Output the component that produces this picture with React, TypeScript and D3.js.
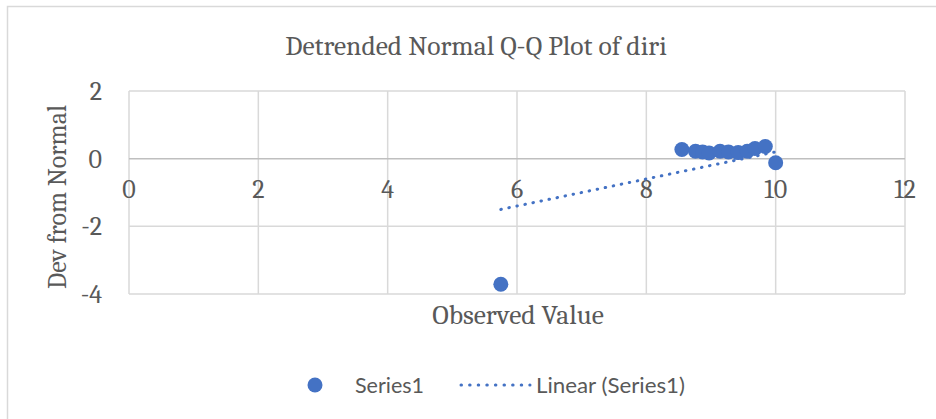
import React, { useEffect, useRef } from "react";
import * as d3 from "d3";

const observed = [5.75, 8.55, 8.76, 8.87, 8.97, 9.14, 9.27, 9.42, 9.56, 9.68, 9.84, 10.0];
const devFromNormal = [-3.71, 0.27, 0.22, 0.2, 0.17, 0.22, 0.2, 0.18, 0.22, 0.3, 0.36, -0.12];

// linear trendline endpoints (Excel fit over all obs, many hidden behind each other)
const trendX = [5.75, 10];
const trendY = [-1.5, 0.2];

const xTicks = [0, 2, 4, 6, 8, 10, 12];
const yTicks = [-4, -2, 0, 2];

const BLUE = "#4472C4";
const TEXT = "#595959";
const SERIF = "Cambria, 'Liberation Serif', serif";

export default function App() {
    const ref = useRef<SVGSVGElement>(null);

    useEffect(() => {
        const svg = d3.select(ref.current);
        svg.selectAll("*").remove();

        const width = 936;
        const height = 419;
        const margin = { top: 91, right: 31, bottom: 125, left: 129 };

        const x = d3.scaleLinear().domain([0, 12]).range([margin.left, width - margin.right]);
        const y = d3.scaleLinear().domain([-4, 2]).range([height - margin.bottom, margin.top]);

        // chart frame
        svg.append("rect")
            .attr("x", 7.5).attr("y", 6.5)
            .attr("width", 1200).attr("height", 1200)
            .attr("fill", "white")
            .attr("stroke", "#d9d9d9")
            .attr("stroke-width", 1.5);

        // gridlines
        svg.append("g")
            .selectAll("line")
            .data(xTicks)
            .join("line")
            .attr("x1", d => x(d)).attr("x2", d => x(d))
            .attr("y1", y(2)).attr("y2", y(-4))
            .attr("stroke", "#d9d9d9")
            .attr("stroke-width", 1.5);

        svg.append("g")
            .selectAll("line")
            .data(yTicks)
            .join("line")
            .attr("x1", x(0)).attr("x2", x(12))
            .attr("y1", d => y(d)).attr("y2", d => y(d))
            .attr("stroke", d => (d === 0 ? "#bfbfbf" : "#d9d9d9"))
            .attr("stroke-width", 1.5);

        // tick labels
        svg.append("g")
            .selectAll("text")
            .data(yTicks)
            .join("text")
            .attr("x", x(0) - 27)
            .attr("y", d => y(d) + 9)
            .attr("text-anchor", "end")
            .attr("font-family", SERIF)
            .attr("font-size", 26)
            .attr("fill", TEXT)
            .text(d => d);

        svg.append("g")
            .selectAll("text")
            .data(xTicks)
            .join("text")
            .attr("x", d => x(d))
            .attr("y", y(0) + 39)
            .attr("text-anchor", "middle")
            .attr("font-family", SERIF)
            .attr("font-size", 26)
            .attr("fill", TEXT)
            .text(d => d);

        // trendline
        const line = d3.line<number>()
            .x((d, i) => x(trendX[i]))
            .y(d => y(d));
        svg.append("path")
            .attr("d", line(trendY))
            .attr("fill", "none")
            .attr("stroke", BLUE)
            .attr("stroke-width", 3)
            .attr("stroke-linecap", "round")
            .attr("stroke-dasharray", "0.5 7.7");

        // points
        svg.append("g")
            .selectAll("circle")
            .data(observed)
            .join("circle")
            .attr("cx", d => x(d))
            .attr("cy", (d, i) => y(devFromNormal[i]))
            .attr("r", 7.5)
            .attr("fill", BLUE);

        // titles
        svg.append("text")
            .attr("x", 476).attr("y", 55)
            .attr("text-anchor", "middle")
            .attr("font-family", SERIF)
            .attr("font-size", 27.5)
            .attr("fill", TEXT)
            .text("Detrended Normal Q-Q Plot of diri");

        svg.append("text")
            .attr("x", 518).attr("y", 324)
            .attr("text-anchor", "middle")
            .attr("font-family", SERIF)
            .attr("font-size", 27.5)
            .attr("fill", TEXT)
            .text("Observed Value");

        svg.append("text")
            .attr("transform", "translate(66,197) rotate(-90)")
            .attr("text-anchor", "middle")
            .attr("font-family", SERIF)
            .attr("font-size", 26)
            .attr("fill", TEXT)
            .text("Dev from Normal");

        // legend
        const legend = svg.append("g").attr("transform", "translate(0,385)");
        legend.append("circle")
            .attr("cx", 315).attr("cy", 0).attr("r", 7.5)
            .attr("fill", BLUE);
        legend.append("text")
            .attr("x", 355).attr("y", 7.5)
            .attr("font-family", "Lato, sans-serif")
            .attr("font-size", 21.5)
            .attr("fill", TEXT)
            .text("Series1");
        legend.append("line")
            .attr("x1", 461).attr("x2", 530)
            .attr("y1", 0).attr("y2", 0)
            .attr("stroke", BLUE)
            .attr("stroke-width", 3)
            .attr("stroke-linecap", "round")
            .attr("stroke-dasharray", "0.5 8.1");
        legend.append("text")
            .attr("x", 536).attr("y", 7.5)
            .attr("font-family", "Lato, sans-serif")
            .attr("font-size", 21.5)
            .attr("fill", TEXT)
            .attr("textLength", 149)
            .attr("lengthAdjust", "spacingAndGlyphs")
            .text("Linear (Series1)");
    }, []);

    return (
        <svg
            ref={ref}
            width={936}
            height={419}
            style={{ position: "absolute", left: 0, top: 0, display: "block" }}
        />
    );
}
